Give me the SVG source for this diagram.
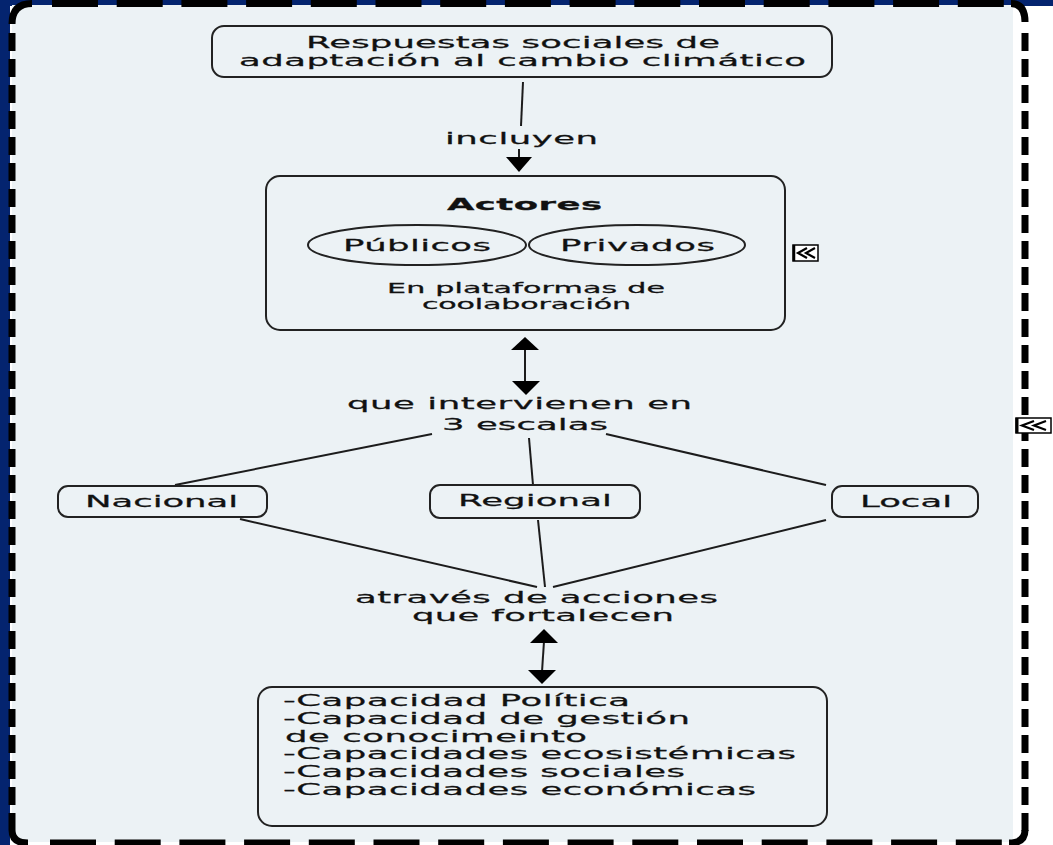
<svg xmlns="http://www.w3.org/2000/svg" width="1053" height="845" viewBox="0 0 1053 845">
<style>
.t{font-family:"DejaVu Sans","Liberation Sans",sans-serif;font-size:16.5px;fill:#111;stroke:#111;stroke-width:0.25}
.s{font-size:14px}
.b{font-weight:bold}
.box{fill:none;stroke:#222;stroke-width:2}
.ln{stroke:#1c1c1c;stroke-width:2;fill:none}
.ah{fill:#000}
.bh{stroke:#000;stroke-width:7;fill:none;stroke-dasharray:46 18.7}
.bv{stroke:#000;stroke-width:7;fill:none;stroke-dasharray:18 8}
.bc{stroke:#000;stroke-width:7;fill:none}
.ic{fill:#fff;stroke:#000;stroke-width:1.5}
.ch{fill:none;stroke:#000;stroke-width:2.2}
</style>
<rect x="0" y="0" width="1053" height="845" fill="#ffffff"/>
<rect x="0" y="0" width="1053" height="6" fill="#04246f"/>
<rect x="0" y="0" width="10" height="845" fill="#04246f"/>
<rect x="12" y="5" width="1001" height="837" fill="#ecf2f5"/>
<g id="frame">
<path class="bh" d="M52,3.5 H1005"/>
<path class="bh" d="M50,843 H1005"/>
<path class="bv" d="M12,33 V830"/>
<path class="bv" d="M1025,33 V835"/>
<path class="bc" d="M12,24 Q12,3.5 32,3.5"/>
<path class="bc" d="M1011,3.5 Q1025,3.5 1025,22"/>
<path class="bc" d="M12,830 Q12,843 28,843"/>
<path class="bc" d="M1009,843 Q1025,843 1025,830"/>
</g>
<g id="connectors">
<line class="ln" x1="523" y1="82" x2="521" y2="126"/>
<text class="t" transform="translate(445,144) scale(2.15,1)" textLength="71.2" lengthAdjust="spacing">incluyen</text>
<line class="ln" x1="519" y1="149" x2="519" y2="160"/>
<polygon class="ah" points="506,157 532,157 519,172"/>
<line class="ln" x1="525" y1="348" x2="525" y2="383"/>
<polygon class="ah" points="511,350 539,350 525,337"/>
<polygon class="ah" points="512,381 540,381 526,395"/>
<text class="t" transform="translate(347,409) scale(2.15,1)" textLength="160.5" lengthAdjust="spacing">que intervienen en</text>
<text class="t" transform="translate(442,430) scale(2.15,1)" textLength="77.2" lengthAdjust="spacing">3 escalas</text>
<line class="ln" x1="432" y1="434" x2="175" y2="485"/>
<line class="ln" x1="529" y1="438" x2="533" y2="485"/>
<line class="ln" x1="606" y1="434" x2="826" y2="485"/>
<line class="ln" x1="240" y1="519" x2="537" y2="587"/>
<line class="ln" x1="538" y1="520" x2="545" y2="587"/>
<line class="ln" x1="826" y1="520" x2="553" y2="587"/>
<text class="t" transform="translate(355,603) scale(2.15,1)" textLength="168.8" lengthAdjust="spacing">através de acciones</text>
<text class="t" transform="translate(412,621) scale(2.15,1)" textLength="121.9" lengthAdjust="spacing">que fortalecen</text>
<line class="ln" x1="544" y1="641" x2="542" y2="672"/>
<polygon class="ah" points="530,643 558,643 544,629"/>
<polygon class="ah" points="528,670 556,670 542,684"/>
</g>
<g id="n-respuestas">
<rect class="box" x="212" y="26" width="620" height="51" rx="12"/>
<text class="t" transform="translate(306,48) scale(2.15,1)" textLength="192.6" lengthAdjust="spacing">Respuestas sociales de</text>
<text class="t" transform="translate(239,66) scale(2.15,1)" textLength="263.7" lengthAdjust="spacing">adaptación al cambio climático</text>
</g>
<g id="n-actores">
<rect class="box" x="266" y="176" width="519" height="154" rx="14"/>
<text class="t b" transform="translate(447,210) scale(2.15,1)" textLength="72.1" lengthAdjust="spacing">Actores</text>
<ellipse class="box" cx="417" cy="245" rx="109" ry="20" stroke-width="1.6"/>
<ellipse class="box" cx="637" cy="245" rx="108" ry="20" stroke-width="1.6"/>
<text class="t" transform="translate(343,251) scale(2.15,1)" textLength="68.8" lengthAdjust="spacing">Públicos</text>
<text class="t" transform="translate(560,251) scale(2.15,1)" textLength="72.1" lengthAdjust="spacing">Privados</text>
<text class="t s" transform="translate(387,293) scale(2.15,1)" textLength="129.3" lengthAdjust="spacing">En plataformas de</text>
<text class="t s" transform="translate(422,309) scale(2.15,1)" textLength="97.2" lengthAdjust="spacing">coolaboración</text>
</g>
<g id="icon-actores">
<rect class="ic" x="793" y="245" width="25" height="16"/>
<line x1="794" y1="245" x2="794" y2="261" stroke="#000" stroke-width="2.5"/>
<path class="ch" d="M807,248 L798,253 L807,258"/>
<path class="ch" d="M815,248 L806,253 L815,258"/>
</g>
<g id="icon-frame">
<rect class="ic" x="1016" y="418" width="35" height="15"/>
<line x1="1017" y1="418" x2="1017" y2="433" stroke="#000" stroke-width="3"/>
<path class="ch" d="M1034,421 L1022,425.5 L1034,430"/>
<path class="ch" d="M1046,421 L1034,425.5 L1046,430"/>
</g>
<g id="n-nacional">
<rect class="box" x="58" y="486" width="209" height="31" rx="10"/>
<text class="t" transform="translate(85,507) scale(2.15,1)" textLength="71.2" lengthAdjust="spacing">Nacional</text>
</g>
<g id="n-regional">
<rect class="box" x="430" y="485" width="210" height="33" rx="10"/>
<text class="t" transform="translate(458,506) scale(2.15,1)" textLength="71.6" lengthAdjust="spacing">Regional</text>
</g>
<g id="n-local">
<rect class="box" x="832" y="486" width="146" height="31" rx="10"/>
<text class="t" transform="translate(860,507) scale(2.15,1)" textLength="42.8" lengthAdjust="spacing">Local</text>
</g>
<g id="n-capacidades">
<rect class="box" x="258" y="687" width="569" height="139" rx="14"/>
<text class="t" transform="translate(283,706) scale(2.15,1)" textLength="161.4" lengthAdjust="spacing">-Capacidad Política</text>
<text class="t" transform="translate(283,724) scale(2.15,1)" textLength="189.3" lengthAdjust="spacing">-Capacidad de gestión</text>
<text class="t" transform="translate(285,741.5) scale(2.15,1)" textLength="140.5" lengthAdjust="spacing">de conocimeinto</text>
<text class="t" transform="translate(283,759) scale(2.15,1)" textLength="238.6" lengthAdjust="spacing">-Capacidades ecosistémicas</text>
<text class="t" transform="translate(283,777) scale(2.15,1)" textLength="187" lengthAdjust="spacing">-Capacidades sociales</text>
<text class="t" transform="translate(283,795) scale(2.15,1)" textLength="220" lengthAdjust="spacing">-Capacidades económicas</text>
</g>
</svg>
